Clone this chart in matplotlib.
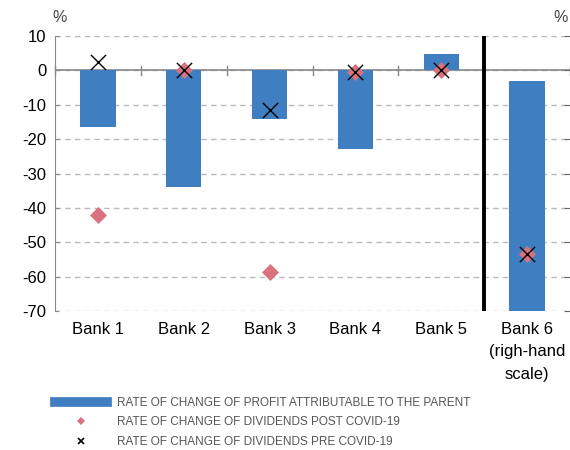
import matplotlib
matplotlib.use("Agg")
import matplotlib.pyplot as plt
from matplotlib.lines import Line2D
import numpy as np

categories = ["Bank 1", "Bank 2", "Bank 3", "Bank 4", "Bank 5", "Bank 6\n(righ-hand\nscale)"]
profit_change = [-16.6, -34.0, -14.0, -23.0, 4.7, -70.0]
profit_base = [0, 0, 0, 0, 0, -3.0]
div_post = [-42.0, 0.0, -58.7, -0.5, 0.0, -53.5]
div_pre = [2.3, 0.0, -11.6, -0.5, 0.0, -53.5]
yticks = [10, 0, -10, -20, -30, -40, -50, -60, -70]
legend_labels = ["RATE OF CHANGE OF PROFIT ATTRIBUTABLE TO THE PARENT",
                 "RATE OF CHANGE OF DIVIDENDS POST COVID-19",
                 "RATE OF CHANGE OF DIVIDENDS PRE COVID-19"]

plt.rcParams['font.family'] = ['Liberation Sans', 'DejaVu Sans']

bar_color = "#3F7EC1"
post_color = "#D9727E"
grid_color = "#BBBBBB"
axis_color = "#888888"

fig = plt.figure(figsize=(5.7, 4.5), dpi=100)
ax = fig.add_axes([55/570, 1-311/450, (570-55)/570, (311-36)/450])

x = np.arange(len(categories))
heights = [p - b for p, b in zip(profit_change, profit_base)]
ax.bar(x, heights, bottom=profit_base, width=0.41, color=bar_color, zorder=2)
ax.scatter(x, div_post, marker="D", s=75, color=post_color, zorder=3, linewidths=0)
ax.scatter(x, div_pre, marker="x", s=120, color="black", linewidths=1.0, zorder=4)

ax.set_xlim(-0.5, len(categories) - 0.5)
ax.set_ylim(-70, 10)
ax.set_yticks(yticks)
ax.set_yticklabels([str(v) for v in yticks], fontsize=12)
ax.yaxis.grid(True, linestyle=(0, (4, 3)), color=grid_color, linewidth=1.0, zorder=0)
ax.set_axisbelow(True)
ax.axhline(0, color=axis_color, linewidth=1.2, zorder=1)

for s in ["top", "right", "bottom"]:
    ax.spines[s].set_visible(False)
ax.spines["left"].set_color(axis_color)
ax.tick_params(axis="y", direction="in", length=3, color=axis_color, pad=6)
ax.tick_params(axis="x", length=0, pad=8)
ax.set_xticks(x)
ax.set_xticklabels(categories, fontsize=12, linespacing=1.6, va="top")

# category boundary ticks on zero line
for b in np.arange(-0.5, len(categories) + 0.5, 1.0):
    if abs(b - 4.5) < 1e-9:
        continue
    ax.plot([b, b], [-1.2, 1.2], color=axis_color, linewidth=1.0, zorder=1, clip_on=False)

# separator between left/right scale
ax.axvline(4.5, color="black", linewidth=2.8, zorder=5)

# right-side tick marks
ax2 = ax.twinx()
ax2.set_ylim(-70, 10)
ax2.set_yticks(yticks)
ax2.set_yticklabels([])
ax2.tick_params(axis="y", direction="in", length=4, color="#666666")
for s in ["top", "right", "bottom", "left"]:
    ax2.spines[s].set_visible(False)

fig.text(60/570, 1-17/450, "%", fontsize=11.5, color="#444444", ha="center", va="center")
fig.text(561/570, 1-17/450, "%", fontsize=11.5, color="#444444", ha="center", va="center")

handles = [
    Line2D([0], [0], color=bar_color, linewidth=7),
    Line2D([0], [0], marker="D", color=post_color, linestyle="none", markersize=4.5, markeredgewidth=0),
    Line2D([0], [0], marker="x", color="black", linestyle="none", markersize=5, markeredgewidth=1.2),
]
leg = fig.legend(handles, legend_labels, loc="upper left", bbox_to_anchor=(55/570, 1-397/450),
                 frameon=False, prop={"family": ["Liberation Sans", "DejaVu Sans"], "size": 8.5},
                 handlelength=4.4, handletextpad=0.85, labelspacing=0.62, borderaxespad=0, borderpad=0)
for t in leg.get_texts():
    t.set_color("#555555")

fig.savefig("out.png", dpi=100)
